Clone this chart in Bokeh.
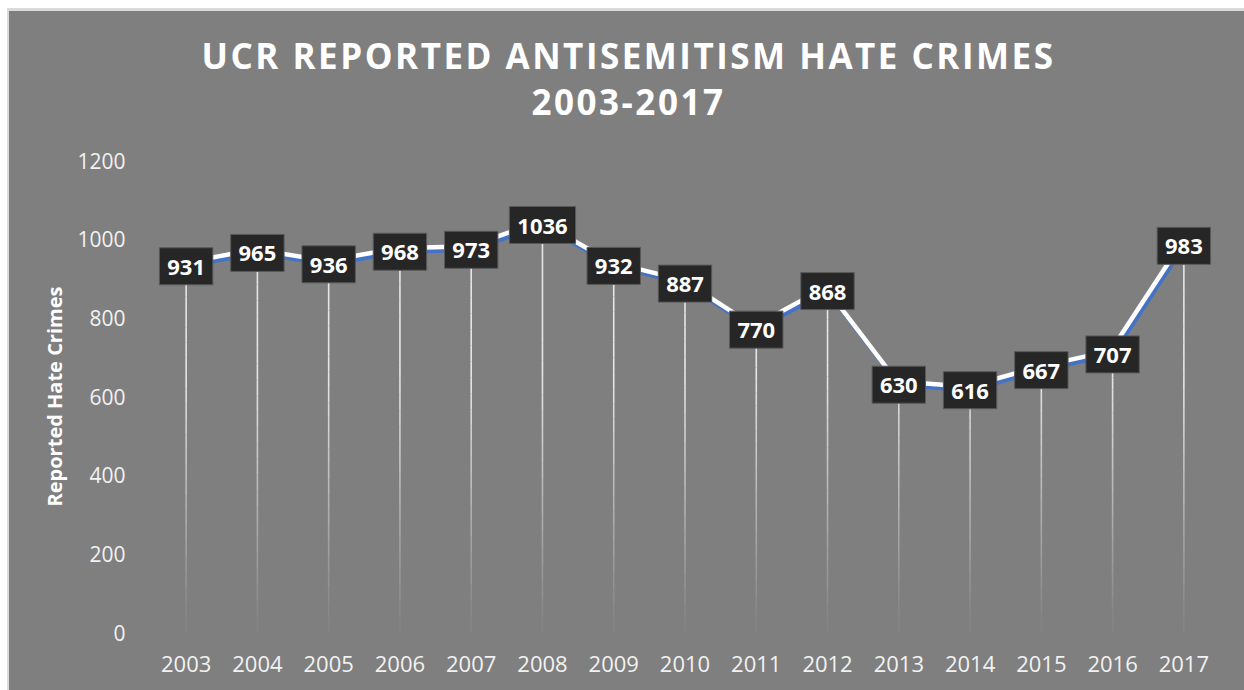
from bokeh.plotting import figure
from bokeh.models import ColumnDataSource, Range1d, FixedTicker, Div
from bokeh.layouts import column
from bokeh.core.properties import value
from bokeh.embed import file_html
from bokeh.resources import INLINE

years = [2003, 2004, 2005, 2006, 2007, 2008, 2009, 2010, 2011, 2012, 2013, 2014, 2015, 2016, 2017]
crimes = [931, 965, 936, 968, 973, 1036, 932, 887, 770, 868, 630, 616, 667, 707, 983]
y_ticks = [0, 200, 400, 600, 800, 1000, 1200]
title_line1 = "UCR REPORTED ANTISEMITISM HATE CRIMES"
title_line2 = "2003-2017"
y_label = "Reported Hate Crimes"

BG = "#7f7f7f"
EDGE = "#dadada"
FONT = "Open Sans"

title_html = (
    '<div style="width:1235px;height:129px;box-sizing:border-box;padding-top:22px;padding-left:4px;'
    'text-align:center;color:#ffffff;font-family:\'Open Sans\';font-weight:bold;font-size:35px;'
    'line-height:46px;letter-spacing:2.5px;">'
    + title_line1 + '<br>' + title_line2 + '</div>'
)
header = Div(text=title_html, width=1235, height=129, margin=(3, 0, 0, 2),
             styles={"background-color": BG})

p = figure(width=1235, height=550, output_backend="svg", toolbar_location=None,
           x_range=Range1d(2002.5, 2017.5), y_range=Range1d(0, 1200),
           background_fill_color=BG, border_fill_color=BG,
           min_border_left=141, min_border_right=25, min_border_top=20, min_border_bottom=58)
p.margin = (0, 0, 0, 2)
p.styles = {"background-color": BG}
p.outline_line_color = None
p.grid.visible = False

# axes
for ax in (p.xaxis[0], p.yaxis[0]):
    ax.axis_line_color = None
    ax.major_tick_line_color = None
    ax.minor_tick_line_color = None
    ax.major_label_text_color = "#f2f2f2"
    ax.major_label_text_font = FONT
p.xaxis.ticker = FixedTicker(ticks=years)
p.xaxis.major_label_text_font_size = "22px"
p.xaxis.major_label_standoff = 17
p.yaxis.ticker = FixedTicker(ticks=y_ticks)
p.yaxis.major_label_text_font_size = "21px"
p.yaxis.major_label_standoff = 19
p.yaxis.axis_label = y_label
p.yaxis.axis_label_text_font = FONT
p.yaxis.axis_label_text_font_style = "bold"
p.yaxis.axis_label_text_font_size = "20px"
p.yaxis.axis_label_text_color = "#ffffff"
p.yaxis.axis_label_standoff = 6

# drop lines with a fade toward the axis
nseg = 24
for yr, v in zip(years, crimes):
    for i in range(nseg):
        y0 = v * i / nseg
        y1 = v * (i + 1) / nseg
        a = min(1.0, max(0.05, ((y0 + y1) / 2) / 650.0))
        p.segment(x0=[yr], y0=[y0], x1=[yr], y1=[y1], line_color="#e6e6e6",
                  line_width=1.6, line_alpha=a)

# line: blue with white offset copy
px_per_year = 71.2
px_per_unit = 472 / 1200
dx = -2.0 / px_per_year
dy = 3.5 / px_per_unit
p.line(years, crimes, line_color="#4472c4", line_width=4.5)
p.line([y + dx for y in years], [c + dy for c in crimes], line_color="#ffffff", line_width=4.5)

# data label boxes
src = ColumnDataSource(dict(
    x=years, y=crimes, t=[str(c) for c in crimes],
    w=[12.8 * len(str(c)) + 15 for c in crimes],
))
p.rect(x="x", y="y", width="w", width_units="screen", height=37, height_units="screen",
       source=src, fill_color="#262626", line_color="#595959", line_width=1)
p.text(x="x", y="y", text="t", source=src, text_align="center", text_baseline="middle",
       text_color="#ffffff", text_font=value(FONT), text_font_style="bold",
       text_font_size="22px", y_offset=1)

layout = column(header, p, spacing=0, margin=(8, 0, 0, 7),
                styles={"background-color": EDGE})
open("out.html", "w").write(file_html(layout, INLINE))
